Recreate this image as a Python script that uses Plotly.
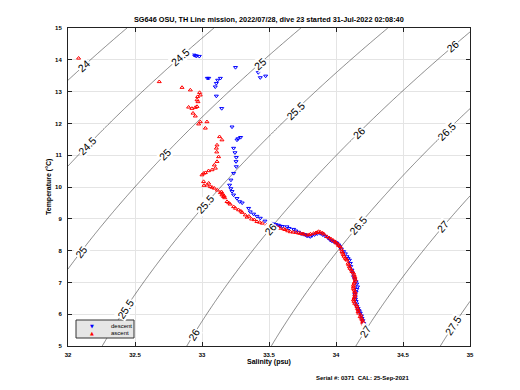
import numpy as np
import plotly.graph_objects as go

title_text = "SG646 OSU, TH Line mission, 2022/07/28, dive 23 started 31-Jul-2022 02:08:40"
serial_text = "Serial #: 0371  CAL: 25-Sep-2021"
x_label = "Salinity (psu)"
y_label = "Temperature (°C)"
density_levels = [24.0, 27.5, 0.5]

desc_S = [32.94, 32.95, 32.96, 32.98, 33.25, 33.42, 33.475, 33.435, 33.04, 33.05,
          33.137, 33.117, 33.107, 33.099, 33.107, 33.147, 33.224, 33.288, 33.27, 33.261,
          33.236, 33.246, 33.256, 33.254, 33.256, 33.236, 33.216, 33.206, 33.215, 33.224,
          33.236, 33.261, 33.281, 33.30, 33.348, 33.36, 33.385, 33.41, 33.435, 33.47,
          33.51, 33.55, 33.584, 33.634, 33.684, 33.72, 33.758, 33.78, 33.808, 33.84,
          33.883, 33.92, 33.957, 33.985, 34.007, 34.03, 34.057, 34.082, 34.10, 34.107,
          34.119, 34.131, 34.15, 34.161, 34.15, 34.144, 34.15, 34.157, 34.17, 34.181,
          34.194, 34.206, 34.22, 34.231, 34.22,
          33.53, 33.57, 33.60, 33.65, 33.70, 33.74, 33.77, 33.79, 33.82, 33.86,
          33.90, 33.94, 33.97, 34.00, 34.02, 34.04, 34.07, 34.09, 34.11, 34.125,
          34.14, 34.155, 34.155, 34.14, 34.145, 34.155, 34.165, 34.175, 34.19, 34.20,
          34.21, 34.225, 34.235]
desc_T = [14.15, 14.13, 14.12, 14.11, 13.76, 13.60, 13.49, 13.44, 13.42, 13.42,
          13.42, 13.36, 13.26, 13.15, 12.86, 12.47, 11.89, 11.56, 11.52, 11.48,
          11.22, 11.08, 10.93, 10.80, 10.64, 10.43, 10.22, 10.06, 9.95, 9.86,
          9.75, 9.64, 9.54, 9.50, 9.33, 9.22, 9.15, 9.08, 9.02, 8.93,
          8.86, 8.82, 8.77, 8.75, 8.67, 8.58, 8.51, 8.47, 8.44, 8.50,
          8.54, 8.45, 8.33, 8.28, 8.23, 8.12, 7.97, 7.81, 7.70, 7.60,
          7.39, 7.18, 7.02, 6.86, 6.70, 6.55, 6.40, 6.24, 6.12, 6.03,
          5.87, 5.71, 5.62, 5.56, 5.50,
          8.84, 8.80, 8.76, 8.70, 8.62, 8.53, 8.50, 8.46, 8.47, 8.53,
          8.50, 8.40, 8.30, 8.25, 8.18, 8.05, 7.90, 7.75, 7.50, 7.30,
          7.10, 6.95, 6.78, 6.62, 6.47, 6.32, 6.18, 6.08, 5.95, 5.80,
          5.66, 5.58, 5.52]

asc_S = [34.21, 34.22, 34.206, 34.20, 34.194, 34.18, 34.169, 34.165, 34.157, 34.14,
         34.131, 34.14, 34.144, 34.135, 34.131, 34.135, 34.144, 34.14, 34.131, 34.115,
         34.10, 34.09, 34.082, 34.069, 34.055, 34.045, 34.032, 34.015, 33.995, 33.965,
         33.933, 33.91, 33.883, 33.86, 33.833, 33.81, 33.783, 33.76, 33.734, 33.70,
         33.659, 33.62, 33.584, 33.55, 33.51, 33.485, 33.45, 33.41, 33.37, 33.336,
         33.323, 33.30, 33.273, 33.236, 33.21, 33.187, 33.161, 33.149, 33.137, 33.115,
         33.092, 33.075, 33.062, 33.05, 33.037, 33.015, 33.012, 33.00, 33.012, 33.025,
         33.049, 33.075, 33.10, 33.092, 33.112, 33.124, 33.11, 33.107, 33.112, 33.149,
         33.131, 33.025, 32.975, 33.037, 32.987, 32.95, 32.933, 32.925, 32.90, 32.95,
         32.963, 32.97, 32.963, 32.967, 32.987, 32.982, 32.913, 32.851, 32.681, 32.079,
         33.53, 33.57, 33.61, 33.64, 33.68, 33.72, 33.75, 33.80, 33.85, 33.87,
         33.90, 33.95, 33.98, 34.00, 34.02, 34.04, 34.05, 34.06, 34.075, 34.095,
         34.105, 34.12, 34.135, 34.14, 34.14, 34.13, 34.13, 34.14, 34.14, 34.135,
         34.135, 34.15, 34.16, 34.165, 34.185, 34.19, 34.20, 34.205, 34.215, 34.20,
         33.145, 33.155, 33.165, 33.17, 33.20, 33.25, 33.29, 33.35, 33.39, 33.43]
asc_T = [5.40, 5.50, 5.61, 5.72, 5.82, 5.92, 6.03, 6.13, 6.24, 6.34,
         6.45, 6.55, 6.66, 6.76, 6.86, 6.97, 7.08, 7.18, 7.29, 7.39,
         7.49, 7.60, 7.70, 7.76, 7.87, 7.97, 8.12, 8.20, 8.28, 8.36,
         8.44, 8.52, 8.58, 8.57, 8.54, 8.52, 8.49, 8.52, 8.54, 8.57,
         8.59, 8.66, 8.70, 8.76, 8.81, 8.81, 8.86, 8.91, 8.99, 9.05,
         9.12, 9.20, 9.28, 9.38, 9.46, 9.54, 9.70, 9.75, 9.82, 9.90,
         9.96, 9.99, 10.01, 10.12, 10.06, 10.05, 10.17, 10.38, 10.43, 10.45,
         10.51, 10.54, 10.59, 10.69, 10.80, 10.95, 11.10, 11.22, 11.32, 11.48,
         11.58, 11.85, 11.98, 12.05, 12.05, 12.23, 12.32, 12.47, 12.51, 12.50,
         12.53, 12.68, 12.74, 12.84, 12.89, 12.97, 13.05, 13.13, 13.31, 14.05,
         8.78, 8.73, 8.68, 8.62, 8.58, 8.55, 8.53, 8.50, 8.56, 8.60,
         8.55, 8.40, 8.32, 8.24, 8.16, 8.04, 7.92, 7.82, 7.73, 7.55,
         7.44, 7.34, 7.23, 7.13, 7.02, 6.91, 6.81, 6.71, 6.60, 6.50,
         6.40, 6.29, 6.18, 6.08, 5.97, 5.87, 5.77, 5.66, 5.55, 5.45,
         9.85, 9.78, 9.72, 9.66, 9.50, 9.33, 9.24, 9.08, 8.97, 8.89]

# contour label placements: (density level, salinity where the label sits)
label_levels = [24.0, 24.5, 24.5, 25.0, 25.0, 25.0, 25.5, 25.5, 25.5,
                26.0, 26.0, 26.0, 26.0, 26.5, 26.5, 27.0, 27.0, 27.5]
label_S = [32.116, 32.838, 32.142, 33.43, 32.726, 32.097, 33.696, 33.025, 32.428,
           34.873, 34.169, 33.51, 32.937, 34.828, 34.169, 34.80, 34.219, 34.877]

legend_names = ["descent", "ascent"]


def sigma0(S, T):
    # UNESCO 1983 equation of state at surface pressure
    rw = (999.842594 + 6.793952e-2 * T - 9.095290e-3 * T**2 + 1.001685e-4 * T**3
          - 1.120083e-6 * T**4 + 6.536332e-9 * T**5)
    A = 8.24493e-1 - 4.0899e-3 * T + 7.6438e-5 * T**2 - 8.2467e-7 * T**3 + 5.3875e-9 * T**4
    B = -5.72466e-3 + 1.0227e-4 * T - 1.6546e-6 * T**2
    C = 4.8314e-4
    return rw + A * S + B * S**1.5 + C * S**2 - 1000.0


def temp_on_level(level, S):
    lo, hi = -2.0, 30.0
    for _ in range(60):
        mid = 0.5 * (lo + hi)
        if sigma0(S, mid) > level:
            lo = mid
        else:
            hi = mid
    return 0.5 * (lo + hi)


X0, X1, Y0, Y1 = 32.0, 35.0, 5.0, 15.0
ML, MR, MT, MB = 68, 50, 28, 44
W, H = 520, 390
px_per_S = (W - ML - MR) / (X1 - X0)
px_per_T = (H - MT - MB) / (Y1 - Y0)

sg = np.linspace(X0, X1, 151)
tg = np.linspace(Y0, Y1, 151)
SS, TT = np.meshgrid(sg, tg)
ZZ = sigma0(SS, TT)

font_fam = "Liberation Sans, Arial, sans-serif"

fig = go.Figure()
fig.add_trace(go.Contour(
    x=sg, y=tg, z=ZZ, autocontour=False,
    contours=dict(start=density_levels[0], end=density_levels[1], size=density_levels[2],
                  coloring="none", showlabels=False),
    line=dict(color="#3a3a3a", width=0.6),
    showscale=False, showlegend=False, hoverinfo="skip",
))

annotations = []
for lev, s in zip(label_levels, label_S):
    t = temp_on_level(lev, s)
    eps = 1e-3
    dsdS = (sigma0(s + eps, t) - sigma0(s - eps, t)) / (2 * eps)
    dsdT = (sigma0(s, t + eps) - sigma0(s, t - eps)) / (2 * eps)
    slope_px = (-dsdS / dsdT) * px_per_T / px_per_S
    ang = np.degrees(np.arctan(slope_px))
    txt = ("%g" % lev)
    annotations.append(dict(
        x=s, y=t, xref="x", yref="y", text=txt, showarrow=False,
        textangle=-ang, bgcolor="white", borderpad=0,
        font=dict(size=10.5, family=font_fam, color="black"),
    ))

fig.add_trace(go.Scatter(
    x=desc_S, y=desc_T, mode="markers", name=legend_names[0], showlegend=False,
    marker=dict(symbol="triangle-down-open", size=3.5, color="blue", line=dict(width=1, color="blue")),
))
fig.add_trace(go.Scatter(
    x=asc_S, y=asc_T, mode="markers", name=legend_names[1], showlegend=False,
    marker=dict(symbol="triangle-up-open", size=3.5, color="red", line=dict(width=1, color="red")),
))

axis_common = dict(
    showgrid=True, gridcolor="#e4e4e4", gridwidth=1,
    showline=True, linecolor="#222", linewidth=1, mirror="allticks",
    ticks="inside", ticklen=4, tickcolor="#222",
    tickfont=dict(size=6, family=font_fam, color="black", weight="bold"),
    zeroline=False,
)


def px_x(p):
    return (p - ML) / (W - ML - MR)


def px_y(p):
    return (H - MB - p) / (H - MT - MB)


shapes = [dict(type="rect", xref="paper", yref="paper",
               x0=px_x(76), x1=px_x(134), y0=px_y(338), y1=px_y(320),
               fillcolor="#e6e6e6", line=dict(color="#333", width=1), layer="above")]
legend_syms = ["▼", "▲"]
legend_cols = ["blue", "red"]
legend_py = [325.5, 332.5]
for name, sym, col, py in zip(legend_names, legend_syms, legend_cols, legend_py):
    annotations.append(dict(text=sym, x=px_x(92), y=px_y(py), xref="paper", yref="paper",
                            xanchor="center", yanchor="middle", showarrow=False,
                            font=dict(size=5, family="DejaVu Sans", color=col)))
    annotations.append(dict(text=name, x=px_x(109), y=px_y(py), xref="paper", yref="paper",
                            xanchor="left", yanchor="middle", showarrow=False,
                            font=dict(size=6, family=font_fam, color="black")))

annotations += [
    dict(text=title_text, x=0.5, y=1.0, xref="paper", yref="paper",
         xanchor="center", yanchor="bottom", yshift=2, showarrow=False,
         font=dict(size=7.3, family=font_fam, color="black", weight="bold")),
    dict(text=x_label, x=0.5, y=px_y(362), xref="paper", yref="paper",
         xanchor="center", yanchor="middle", showarrow=False,
         font=dict(size=7, family=font_fam, color="black", weight="bold")),
    dict(text=y_label, x=px_x(49), y=0.5, xref="paper", yref="paper",
         xanchor="center", yanchor="middle", showarrow=False, textangle=-90,
         font=dict(size=7, family=font_fam, color="black", weight="bold")),
    dict(text=serial_text, x=px_x(362), y=px_y(378), xref="paper", yref="paper",
         xanchor="center", yanchor="middle", showarrow=False,
         font=dict(size=6, family=font_fam, color="black", weight="bold")),
]

fig.update_layout(
    width=W, height=H,
    margin=dict(l=ML, r=MR, t=MT, b=MB),
    paper_bgcolor="white", plot_bgcolor="white",
    font=dict(family=font_fam, color="black"),
    xaxis=dict(range=[X0, X1], dtick=0.5, tick0=32, ticklabelstandoff=3, **axis_common),
    yaxis=dict(range=[Y0, Y1], dtick=1, tick0=5, ticklabelstandoff=4, **axis_common),
    showlegend=False,
    shapes=shapes,
    annotations=annotations,
)

fig.write_html("out.html", config={"displayModeBar": False},
               post_script="document.body.style.margin='0';")
